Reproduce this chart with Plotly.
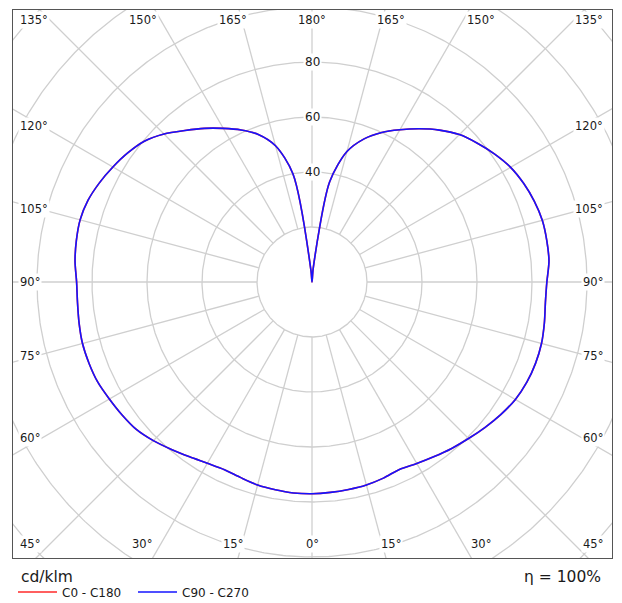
import numpy as np
import plotly.graph_objects as go

# ---- data (cd/klm) ----
gamma = [0, 5, 10, 15, 20, 25, 30, 35, 40, 45, 50, 55, 60, 65, 70, 75, 80, 85, 90,
         95, 100, 105, 110, 115, 120, 125, 130, 135, 140, 145, 150, 155, 160, 165, 170, 175, 180]
c270 = [77.0, 77.0, 76.7, 76.4, 75.7, 75.3, 76.1, 77.6, 79.5, 81.6, 83.4, 84.3, 85.1, 86.0, 86.3, 86.4, 86.0, 85.6, 85.6,
        86.5, 87.0, 87.3, 86.7, 85.3, 83.6, 81.8, 79.6, 76.1, 71.9, 68.2, 64.5, 61.0, 57.1, 51.3, 40.0, 4.0, 0.0]
c90 = [77.0, 76.8, 76.6, 76.4, 75.9, 75.2, 76.2, 77.5, 79.0, 80.5, 82.2, 83.9, 85.4, 86.2, 86.5, 86.4, 85.8, 85.2, 85.4,
       86.5, 86.7, 86.7, 86.0, 84.9, 83.4, 81.1, 78.5, 75.8, 72.1, 68.0, 63.9, 60.0, 55.4, 49.1, 37.0, 5.0, 0.0]
# C0 - C180 coincides with C90 - C270 (hidden underneath)
c180 = list(c270)
c0 = list(c90)

ring_values = [20, 40, 60, 80, 100, 120, 140]
ring_labels = [40, 60, 80]
spoke_step = 15

OFF = 8                      # browser body margin
W, H = 614, 595
FRAME_L, FRAME_R, FRAME_T, FRAME_B = 13, 612, 10, 558   # page pixels
L, T = FRAME_L - OFF, FRAME_T - OFF
R, B = W - (FRAME_R - OFF), H - (FRAME_B - OFF)
CX, CY = 312, 282          # page pixel centre
SCALE = 2.75               # px per cd/klm
pw, ph = W - L - R, H - T - B
xr = [(FRAME_L - CX) / SCALE, (FRAME_R - CX) / SCALE]
yr = [-(FRAME_B - CY) / SCALE, (CY - FRAME_T) / SCALE]


def px(xp):
    return (xp - FRAME_L) / pw


def py(yp):
    return (FRAME_B - yp) / ph


def curve(left_vals, right_vals):
    g = np.radians(gamma)
    lv = np.array(left_vals)
    rv = np.array(right_vals)
    xl = -lv * np.sin(g)
    yl = -lv * np.cos(g)
    xr_ = rv * np.sin(g)
    yr_ = -rv * np.cos(g)
    x = np.concatenate([xl, xr_[::-1][1:]])
    y = np.concatenate([yl, yr_[::-1][1:]])
    return x, y


fig = go.Figure()

# grid: rings
gx, gy = [], []
t = np.linspace(0, 2 * np.pi, 721)
for rv in ring_values:
    gx += list(rv * np.cos(t)) + [None]
    gy += list(rv * np.sin(t)) + [None]
# spokes
for a in range(0, 360, spoke_step):
    ar = np.radians(a)
    gx += [20 * np.cos(ar), 170 * np.cos(ar), None]
    gy += [20 * np.sin(ar), 170 * np.sin(ar), None]
fig.add_trace(go.Scatter(x=gx, y=gy, mode="lines", line=dict(color="#cfcfcf", width=1.3),
                         hoverinfo="skip", showlegend=False))

x0, y0 = curve(c180, c0)
fig.add_trace(go.Scatter(x=x0, y=y0, mode="lines", line=dict(color="#ff2a2a", width=1.6, shape="spline", smoothing=0.8),
                         name="C0 - C180", showlegend=False))
x1, y1 = curve(c270, c90)
fig.add_trace(go.Scatter(x=x1, y=y1, mode="lines", line=dict(color="#1414ff", width=1.6, shape="spline", smoothing=0.8),
                         name="C90 - C270", showlegend=False))

FONT = "DejaVu Sans"
lab_font = dict(family=FONT, size=11.5, color="#1a1a1a")
ann = []
# radial value labels
for v in ring_labels:
    ann.append(dict(x=0, y=v, xref="x", yref="y", text=str(v), showarrow=False,
                    font=dict(family=FONT, size=12, color="#1a1a1a"), bgcolor="white", borderpad=1))

# angle labels
left_col = [("135°", 20), ("120°", 126), ("105°", 209), ("90°", 282), ("75°", 356), ("60°", 438), ("45°", 544)]
for txt, yy in left_col:
    ann.append(dict(x=px(18), y=py(yy), xref="paper", yref="paper", text=txt, showarrow=False,
                    xanchor="left", yanchor="middle", font=lab_font, bgcolor="white", borderpad=1))
    ann.append(dict(x=px(605), y=py(yy), xref="paper", yref="paper", text=txt, showarrow=False,
                    xanchor="right", yanchor="middle", font=lab_font, bgcolor="white", borderpad=1))
top_row = [("150°", 143), ("165°", 233), ("180°", 312), ("165°", 391), ("150°", 481)]
for txt, xx in top_row:
    ann.append(dict(x=px(xx), y=py(20), xref="paper", yref="paper", text=txt, showarrow=False,
                    xanchor="center", yanchor="middle", font=lab_font, bgcolor="white", borderpad=1))
bot_row = [("30°", 142), ("15°", 233), ("0°", 312), ("15°", 391), ("30°", 481)]
for txt, xx in bot_row:
    ann.append(dict(x=px(xx), y=py(544), xref="paper", yref="paper", text=txt, showarrow=False,
                    xanchor="center", yanchor="middle", font=lab_font, bgcolor="white", borderpad=1))

# footer texts
ann.append(dict(x=px(19), y=py(577), xref="paper", yref="paper", text="cd/klm", showarrow=False,
                xanchor="left", yanchor="middle", font=dict(family=FONT, size=15.5, color="#1a1a1a")))
ann.append(dict(x=px(603), y=py(577), xref="paper", yref="paper", text="η = 100%", showarrow=False,
                xanchor="right", yanchor="middle", font=dict(family=FONT, size=15.5, color="#1a1a1a")))
ann.append(dict(x=px(60), y=py(593), xref="paper", yref="paper", text="C0 - C180", showarrow=False,
                xanchor="left", yanchor="middle", font=dict(family=FONT, size=12, color="#1a1a1a")))
ann.append(dict(x=px(180), y=py(593), xref="paper", yref="paper", text="C90 - C270", showarrow=False,
                xanchor="left", yanchor="middle", font=dict(family=FONT, size=12, color="#1a1a1a")))

shapes = [
    dict(type="line", xref="paper", yref="paper", x0=px(18), x1=px(57), y0=py(592), y1=py(592),
         line=dict(color="#ff2a2a", width=1.6)),
    dict(type="line", xref="paper", yref="paper", x0=px(138), x1=px(177), y0=py(592), y1=py(592),
         line=dict(color="#1414ff", width=1.6)),
]

fig.update_layout(
    width=W, height=H,
    margin=dict(l=L, r=R, t=T, b=B, pad=0),
    paper_bgcolor="white", plot_bgcolor="white",
    xaxis=dict(range=xr, showgrid=False, zeroline=False, showticklabels=False, ticks="",
               showline=True, mirror=True, linecolor="#555555", linewidth=1, fixedrange=True),
    yaxis=dict(range=yr, showgrid=False, zeroline=False, showticklabels=False, ticks="",
               showline=True, mirror=True, linecolor="#555555", linewidth=1, fixedrange=True),
    annotations=ann, shapes=shapes, showlegend=False,
)

fig.write_html("out.html")
